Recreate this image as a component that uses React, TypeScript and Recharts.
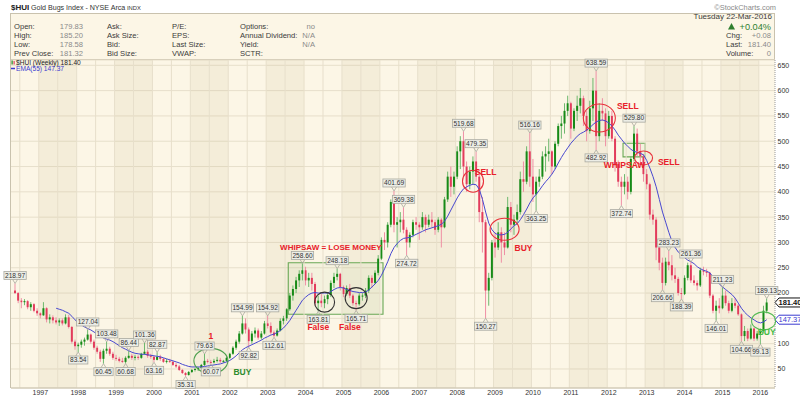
import React from 'react';
import { ComposedChart, Bar, Line, XAxis, YAxis, CartesianGrid, ReferenceArea, ReferenceLine, ReferenceDot } from 'recharts';

// ---- weekly $HUI summarised as monthly candles [open, high, low, close] ----
const ohlc1996 = [[205,218.97,198,200],[200,202,180,185],[185,190,170,182],[182,188,176,184],[184,186,168,172],[172,182,165,178],[178,180,162,165],[165,170,155,160]];
const ohlc1997 = [[160,162,150,156],[156,182,155,170],[170,172,142,148],[148,158,140,152],[152,156,140,146],[146,152,138,142],[142,150,135,146],[146,150,136,140],[140,158,138,152],[152,157,130,133],[133,135,100,104],[104,108,88,95]];
const ohlc1998 = [[95,102,83.54,98],[98,108,92,104],[104,112,96,108],[108,127.04,106,118],[118,120,100,104],[104,108,88,92],[92,96,80,84],[84,88,64,70],[70,90,60.45,86],[86,103.48,80,90],[90,94,76,80],[80,84,68,72]];
const ohlc1999 = [[72,78,66,70],[70,74,63,66],[66,72,62,64],[64,75,60.68,72],[72,86.44,70,76],[76,80,68,72],[72,78,67,74],[74,77,68,72],[72,82,70,80],[80,101.36,78,84],[84,88,72,76],[76,80,70,74]];
const ohlc2000 = [[74,76,63.16,68],[68,82.87,67,74],[74,78,66,70],[70,72,62,64],[64,70,61,66],[66,70,62,64],[64,66,56,58],[58,62,52,55],[55,58,46,48],[48,50,40,42],[42,44,35.31,38],[38,46,37,44]];
const ohlc2001 = [[44,50,42,48],[48,52,45,50],[50,54,46,52],[52,60,50,58],[58,79.63,56,66],[66,70,61,64],[64,68,60.07,63],[63,70,61,66],[66,74,63,68],[68,72,62,65],[65,68,62,66],[66,74,64,72]];
const ohlc2002 = [[72,82,70,80],[80,95,78,92],[92,108,88,104],[104,125,100,120],[120,154.99,118,140],[140,150,120,128],[128,132,92.82,105],[105,125,100,120],[120,132,112,126],[126,130,108,112],[112,125,108,120],[120,145,118,140]];
const ohlc2003 = [[140,154.92,130,135],[135,142,118,122],[122,126,112.61,116],[116,130,114,126],[126,150,124,145],[145,155,138,150],[150,170,145,168],[168,200,165,195],[195,215,185,208],[208,232,200,225],[225,245,212,238],[238,258.6,225,245]];
const ohlc2004 = [[245,252,215,225],[225,240,212,230],[230,240,205,218],[218,222,175,180],[180,195,163.81,185],[185,198,172,180],[180,195,170,188],[188,200,178,196],[196,225,192,220],[220,240,210,232],[232,248.18,225,238],[238,240,205,212]];
const ohlc2005 = [[212,215,192,198],[198,215,195,210],[210,218,190,195],[195,198,175,180],[180,185,165.71,178],[178,200,175,195],[195,200,185,195],[195,210,190,205],[205,235,200,230],[230,235,210,220],[220,245,218,240],[240,275,235,268]];
const ohlc2006 = [[268,310,265,305],[305,320,285,300],[300,340,290,335],[335,385,330,380],[380,401.69,320,335],[335,350,290,340],[340,360,320,345],[345,369.38,318,325],[325,330,274.72,300],[300,320,290,315],[315,345,310,340],[340,350,325,335]];
const ohlc2007 = [[335,340,305,330],[330,360,325,350],[350,355,320,335],[335,355,330,345],[345,360,330,340],[340,345,315,325],[325,350,320,345],[345,348,290,330],[330,390,328,385],[385,440,380,430],[430,450,390,410],[410,440,395,430]];
const ohlc2008 = [[430,490,425,480],[480,510,445,500],[500,519.68,430,450],[450,460,400,415],[415,450,405,440],[440,470,415,460],[460,479.35,420,430],[430,435,340,360],[360,390,280,340],[340,345,150.27,205],[205,240,175,230],[230,305,225,300]];
const ohlc2009 = [[300,320,270,290],[290,340,285,320],[320,330,260,300],[300,320,275,290],[290,390,288,370],[370,380,320,335],[335,355,315,345],[345,375,335,360],[360,440,355,425],[425,460,400,420],[420,490,415,480],[480,516.16,410,430]];
const ohlc2010 = [[430,465,380,395],[395,430,363.25,420],[420,445,410,430],[430,480,425,470],[470,490,440,475],[475,505,460,480],[480,482,435,450],[450,500,445,495],[495,535,490,530],[530,550,505,535],[535,575,515,560],[560,590,550,575]];
const ohlc2011 = [[575,578,505,525],[525,565,520,560],[560,590,540,570],[570,605,555,585],[585,590,530,550],[550,560,500,520],[520,580,515,565],[565,625,540,600],[600,638.59,482.92,510],[510,575,500,560],[560,585,540,555],[555,565,490,510]];
const ohlc2012 = [[510,560,505,550],[550,560,500,505],[505,510,440,455],[455,462,410,420],[420,430,372.74,410],[410,435,395,420],[420,430,385,400],[400,470,395,465],[465,529.8,460,515],[515,525,470,480],[480,495,455,470],[470,475,420,435]];
const ohlc2013 = [[435,445,405,415],[415,418,345,355],[355,365,335,345],[345,350,265,290],[290,298,245,260],[260,270,206.66,220],[220,270,215,262],[262,283.23,245,255],[255,275,225,235],[235,250,220,228],[228,232,195,200],[200,210,188.39,198]];
const ohlc2014 = [[198,235,196,230],[230,260,225,255],[255,261.36,220,225],[225,235,215,220],[220,225,205,215],[215,250,212,245],[245,252,235,242],[242,248,232,240],[240,242,190,195],[195,198,160,165],[165,185,146.01,175],[175,190,160,170]];
const ohlc2015 = [[170,211.23,168,195],[195,205,175,180],[180,185,160,165],[165,190,162,180],[180,190,170,175],[175,178,155,158],[158,160,104.66,115],[115,135,105,125],[125,130,105,110],[110,138,108,130],[130,132,105,110],[110,125,106,120]];
const ohlc2016 = [[120,130,99.13,125],[125,175,122,165],[165,189.13,160,181.4]];

// EMA(55) read monthly, starting Jun 1997
const ema55 = [170,168,166,163,160,154,147,141,137,133,130,127,123,119,115,111,109,107,104,100,96,92,89,86,83,81,80,79,79,78,77,76,75,74,72,70,68,66,64,62,59,57,55,54,54,54,54,55,56,57,58,59,60,62,64,67,71,76,82,88,92,95,98,101,104,107,111,114,117,119,122,126,131,138,146,156,166,176,186,192,197,200,201,200,200,200,200,203,207,210,211,210,207,205,203,202,201,201,202,206,212,218,225,235,248,262,278,290,298,304,308,309,310,313,316,319,322,325,327,329,331,333,336,342,352,364,376,388,398,406,410,413,415,414,405,385,360,338,325,318,315,315,316,320,327,333,337,345,355,366,378,388,395,403,412,420,427,435,445,457,468,478,487,496,503,510,515,518,522,527,533,538,541,542,540,536,530,522,512,504,496,490,484,480,478,476,473,462,447,430,410,385,360,340,320,302,290,281,275,270,265,262,258,252,248,245,243,240,232,224,218,212,207,202,197,190,180,170,162,156,151,147,143,141,143,147.37];
const emaStartKey = '1997-06';

const yTicks = [25,50,75,100,125,150,175,200,225,250,275,300,325,350,375,400,425,450,475,500,525,550,575,600,625,650];
const shadedYears = [1997,1999,2001,2003,2005,2007,2009,2011,2013,2015];

// price call-outs: [month, value, above?]
const callouts: [string, number, boolean][] = [
  ['1996-05',218.97,true],['1998-01',83.54,false],['1998-04',127.04,true],['1998-09',60.45,false],['1998-10',103.48,true],
  ['1999-04',60.68,false],['1999-05',86.44,true],['1999-10',101.36,true],['2000-01',63.16,false],['2000-02',82.87,true],
  ['2000-11',35.31,false],['2001-05',79.63,true],['2001-07',60.07,false],['2002-05',154.99,true],['2002-07',92.82,false],
  ['2003-01',154.92,true],['2003-03',112.61,false],['2003-12',258.60,true],['2004-05',163.81,false],['2004-11',248.18,true],
  ['2005-05',165.71,false],['2006-05',401.69,true],['2006-08',369.38,true],['2006-09',274.72,false],['2008-03',519.68,true],
  ['2008-07',479.35,true],['2008-10',150.27,false],['2009-12',516.16,true],['2010-02',363.25,false],['2011-09',638.59,true],
  ['2011-09',482.92,false],['2012-05',372.74,false],['2012-09',529.80,true],['2013-06',206.66,false],['2013-08',283.23,true],
  ['2013-12',188.39,false],['2014-03',261.36,true],['2014-11',146.01,false],['2015-01',211.23,true],['2015-07',104.66,false],
  ['2016-01',99.13,false],['2016-03',189.13,true],
];

// hand-drawn annotations
const ellipses: { m: string; v: number; rx: number; ry: number; color: string }[] = [
  { m: '2001-07', v: 66, rx: 17, ry: 12.5, color: '#4FA04F' },
  { m: '2004-07', v: 182, rx: 10, ry: 10, color: '#333333' },
  { m: '2005-05', v: 190, rx: 11, ry: 10.5, color: '#333333' },
  { m: '2008-06', v: 421, rx: 10.5, ry: 11, color: '#E8303A' },
  { m: '2009-04', v: 326, rx: 14.5, ry: 11, color: '#E8303A' },
  { m: '2011-10', v: 546, rx: 16, ry: 14, color: '#E8303A' },
  { m: '2012-12', v: 467, rx: 9, ry: 7, color: '#E8303A' },
  { m: '2016-02', v: 145, rx: 12, ry: 9, color: '#55BB55' },
];
const notes: { m: string; v: number; text: string; color: string; size: number }[] = [
  { m: '2001-07', v: 115, text: '1', color: '#E8202A', size: 8.5 },
  { m: '2002-05', v: 44, text: 'BUY', color: '#2E8B2E', size: 8.5 },
  { m: '2004-09', v: 290, text: 'WHIPSAW = LOSE MONEY', color: '#E8202A', size: 8 },
  { m: '2004-05', v: 133, text: 'False', color: '#E8202A', size: 8.5 },
  { m: '2005-03', v: 133, text: 'False', color: '#E8202A', size: 8.5 },
  { m: '2008-10', v: 439, text: 'SELL', color: '#E8202A', size: 8.5 },
  { m: '2009-10', v: 289, text: 'BUY', color: '#E8202A', size: 8.5 },
  { m: '2012-07', v: 570, text: 'SELL', color: '#E8202A', size: 8.5 },
  { m: '2012-06', v: 453, text: 'WHIPSAW', color: '#E8202A', size: 8.5 },
  { m: '2013-08', v: 459, text: 'SELL', color: '#E8202A', size: 8.5 },
  { m: '2016-03', v: 123, text: 'BUY', color: '#44BB44', size: 8.5 },
];
const boxes = [
  { x1: '2003-08', x2: '2006-01', y1: 158, y2: 260 },
  { x1: '2012-06', x2: '2012-12', y1: 469, y2: 496 },
];
const lastPrice = 181.4;
const lastEma = 147.37;

// ---- build table ----
const allOhlc = [ohlc1996, ohlc1997, ohlc1998, ohlc1999, ohlc2000, ohlc2001, ohlc2002, ohlc2003, ohlc2004, ohlc2005, ohlc2006, ohlc2007, ohlc2008, ohlc2009, ohlc2010, ohlc2011, ohlc2012, ohlc2013, ohlc2014, ohlc2015, ohlc2016].flat();
const data = allOhlc.map((r, i) => {
  const mi = 4 + i;
  const yr = 1996 + Math.floor(mi / 12);
  const mo = (mi % 12) + 1;
  return { m: `${yr}-${String(mo).padStart(2, '0')}`, o: r[0], h: r[1], l: r[2], c: r[3], ema: null as number | null };
});
const emaStart = data.findIndex(d => d.m === emaStartKey);
ema55.forEach((v, k) => { if (data[emaStart + k]) data[emaStart + k].ema = v; });
const yearTicks = data.filter(d => d.m.endsWith('-01')).map(d => d.m);
const gridMonths = data.filter(d => d.m.endsWith('-01') || d.m.endsWith('-07')).map(d => d.m);

const NARROW = '"Liberation Sans Narrow", "Arial Narrow", sans-serif';
const SANS = '"Liberation Sans", Arial, sans-serif';

const Candle = (props: any) => {
  const { x, y, width, height, payload } = props;
  if (!payload || y == null || height == null) return null;
  const { o, h, l, c } = payload;
  const top = Math.min(y, y + height);
  const bot = Math.max(y, y + height);
  const span = h - l || 1;
  const py = (v: number) => top + ((h - v) / span) * (bot - top);
  const cx = x + width / 2;
  const up = c >= o;
  const body = up ? '#178A17' : '#E23C5C';
  const wick = up ? '#6DB86D' : '#EF8FA5';
  const yo = py(o), yc = py(c);
  return (
    <g>
      <line x1={cx} x2={cx} y1={top} y2={bot} stroke={wick} strokeWidth={1} />
      <rect x={cx - 1} y={Math.min(yo, yc)} width={2} height={Math.max(1, Math.abs(yc - yo))} fill={body} />
    </g>
  );
};

const Callout = (props: any) => {
  const { cx, cy, text, up } = props;
  if (cx == null || cy == null) return null;
  const w = text.length * 3.05 + 4;
  const h = 8;
  const gap = 4;
  const by = up ? cy - gap - h : cy + gap;
  const tip = up ? `M${cx - 2.5},${cy - gap} L${cx},${cy} L${cx + 2.5},${cy - gap}` : `M${cx - 2.5},${cy + gap} L${cx},${cy} L${cx + 2.5},${cy + gap}`;
  return (
    <g>
      <path d={tip} stroke="#A9A9A0" strokeWidth={0.8} fill="none" />
      <rect x={cx - w / 2} y={by} width={w} height={h} fill="#ECEDE6" stroke="#A9A9A0" strokeWidth={0.8} />
      <text x={cx} y={by + h / 2 + 2.3} textAnchor="middle" fontSize={6.6} fill="#333" fontFamily={NARROW}>{text}</text>
    </g>
  );
};

const EllipseShape = (props: any) => {
  const { cx, cy, rx, ry, color } = props;
  if (cx == null) return null;
  return <ellipse cx={cx} cy={cy} rx={rx} ry={ry} fill="none" stroke={color} strokeWidth={1.1} />;
};

const NoteShape = (props: any) => {
  const { cx, cy, text, color, size } = props;
  if (cx == null) return null;
  return <text x={cx} y={cy + size * 0.35} textAnchor="middle" fontSize={size} fontWeight="bold" fill={color} fontFamily={SANS}>{text}</text>;
};

const PriceTag = (props: any) => {
  const { viewBox, text, color, bold } = props;
  if (!viewBox) return null;
  const x = viewBox.x + viewBox.width;
  const y = viewBox.y;
  return (
    <g>
      <path d={`M${x},${y} L${x + 4},${y - 4.5} L${x + 26},${y - 4.5} L${x + 26},${y + 4.5} L${x + 4},${y + 4.5} Z`} fill="#fff" stroke={color} strokeWidth={1} />
      <text x={x + 15} y={y + 2.6} textAnchor="middle" fontSize={7.5} fontWeight={bold ? 'bold' : 'normal'} fill={color} fontFamily={NARROW}>{text}</text>
    </g>
  );
};

// y tick labels hidden where the price tags sit on the axis
const YTick = (props: any) => {
  const { x, y, payload } = props;
  const v = payload?.value;
  if (v == null) return null;
  if (Math.abs(v - lastPrice) < 9 || Math.abs(v - lastEma) < 9) return null;
  return <text x={x} y={y + 2.4} fontSize={7} fill="#333" fontFamily={NARROW} textAnchor="start">{v}</text>;
};

const Header = () => {
  const lab = { fontSize: 7.6, fill: '#3A3A3A', fontFamily: SANS } as any;
  const val = { fontSize: 7.6, fill: '#8A8A8A', fontFamily: SANS } as any;
  const rows = [26, 35, 44, 53].map(r => r + 2.6);
  const c1 = ['Open:', 'High:', 'Low:', 'Prev Close:'];
  const v1 = ['179.83', '185.20', '178.58', '181.32'];
  const c2 = ['Ask:', 'Ask Size:', 'Bid:', 'Bid Size:'];
  const c3 = ['P/E:', 'EPS:', 'Last Size:', 'VWAP:'];
  const c4 = ['Options:', 'Annual Dividend:', 'Yield:', 'SCTR:'];
  const v4 = ['no', 'N/A', 'N/A', ''];
  return (
    <svg width={800} height={80} style={{ position: 'absolute', left: 0, top: 0, pointerEvents: 'none' }}>
      <text x={11} y={10} fontSize={8} fontWeight="bold" fill="#222" fontFamily={SANS}>$HUI</text>
      <text x={31} y={10} fontSize={7.1} fill="#333" fontFamily={SANS}>Gold Bugs Index - NYSE Arca</text>
      <text x={127} y={10} fontSize={5.8} fill="#333" fontFamily={SANS}>INDX</text>
      <text x={776} y={10} textAnchor="end" fontSize={7.4} fill="#8A8A8A" fontFamily={SANS}>©StockCharts.com</text>
      {rows.map((y, k) => (
        <g key={k}>
          <text x={14} y={y} {...lab}>{c1[k]}</text>
          <text x={83} y={y} textAnchor="end" {...val}>{v1[k]}</text>
          <text x={107} y={y} {...lab}>{c2[k]}</text>
          <text x={172} y={y} {...lab}>{c3[k]}</text>
          <text x={240} y={y} {...lab}>{c4[k]}</text>
          <text x={315} y={y} textAnchor="end" {...val}>{v4[k]}</text>
        </g>
      ))}
      <text x={772} y={19} textAnchor="end" fontSize={8} fill="#3A3A3A" fontFamily={SANS}>Tuesday  22-Mar-2016</text>
      <path d="M728,29.5 L731.5,23 L735,29.5 Z" fill="#2F7F2F" />
      <text x={771} y={29.5} textAnchor="end" fontSize={9.2} fill="#2F7F2F" fontFamily={SANS}>+0.04%</text>
      <text x={726} y={rows[1]} {...lab}>Chg:</text>
      <text x={771} y={rows[1]} textAnchor="end" {...val}>+0.08</text>
      <text x={726} y={rows[2]} {...lab}>Last:</text>
      <text x={771} y={rows[2]} textAnchor="end" {...val}>181.40</text>
      <text x={726} y={rows[3]} {...lab}>Volume:</text>
      <text x={771} y={rows[3]} textAnchor="end" {...val}>0</text>
      {/* legend */}
      <rect x={11.5} y={60.5} width={1.2} height={4} fill="#178A17" />
      <rect x={13.5} y={61} width={1.2} height={3.5} fill="#E23C5C" />
      <text x={16} y={64.8} fontSize={6.6} fill="#222" fontFamily={SANS}>$HUI (Weekly) 181.40</text>
      <line x1={11} x2={15} y1={68.5} y2={68.5} stroke="#3A3AD0" strokeWidth={1.5} />
      <text x={16} y={71} fontSize={6.6} fill="#3A3AD0" fontFamily={SANS}>EMA(55) 147.37</text>
    </svg>
  );
};

export default function App() {
  return (
    <div style={{ position: 'absolute', left: 0, top: 0, width: 800, height: 399, background: '#fff', overflow: 'hidden' }}>
      <div style={{ position: 'absolute', left: 10, top: 13, width: 765, height: 375, background: '#FCF6E6', border: '1px solid #C9C2AE', boxSizing: 'border-box' }} />
      <div style={{ position: 'absolute', left: 10, top: 59, width: 765, height: 1, background: '#C9C2AE' }} />
      <div style={{ position: 'absolute', left: 0, top: 0 }}>
        <ComposedChart width={800} height={399} data={data} margin={{ top: 60, right: 0, bottom: 0, left: 11 }} barCategoryGap={0}>
          <CartesianGrid vertical={false} stroke="#E7DFCB" strokeWidth={1} fill="#FCF6E6" />
          {shadedYears.map(yr => (
            <ReferenceArea key={yr} x1={`${yr}-01`} x2={`${yr}-12`} fill="#BFAE80" fillOpacity={0.13} stroke="none" ifOverflow="hidden" />
          ))}
          {gridMonths.map(m => (
            <ReferenceLine key={m} x={m} position="start" stroke="#E7DFCB" strokeWidth={1} />
          ))}
          <XAxis dataKey="m" ticks={yearTicks} interval={0} tickFormatter={(m: string) => m.slice(0, 4)} tickLine={false} tickSize={0} tickMargin={2.5}
            axisLine={{ stroke: '#C9C2AE' }} tick={{ fontSize: 7, fill: '#333', fontFamily: NARROW }} padding={{ left: 2.5, right: 6.7 }} height={11} />
          <YAxis orientation="right" type="number" domain={[12.4, 660.5]} ticks={yTicks} allowDataOverflow width={25} tickLine={false} tickSize={0} tickMargin={2.5}
            axisLine={{ stroke: '#9A9A9A', strokeDasharray: '1 1' }} tick={(p: any) => <YTick {...p} />} />
          <Bar dataKey={(d: any) => [d.l, d.h]} shape={(p: any) => <Candle {...p} />} isAnimationActive={false} />
          <Line dataKey="ema" stroke="#4848D0" strokeWidth={1} dot={false} activeDot={false} isAnimationActive={false} connectNulls={false} />
          {boxes.map((b, k) => (
            <ReferenceArea key={'b' + k} x1={b.x1} x2={b.x2} y1={b.y1} y2={b.y2} fill="#7FBF60" fillOpacity={0.06} stroke="#6AA855" strokeWidth={1.1} />
          ))}
          {ellipses.map((e, k) => (
            <ReferenceDot key={'e' + k} x={e.m} y={e.v} r={1} shape={(p: any) => <EllipseShape {...p} rx={e.rx} ry={e.ry} color={e.color} />} />
          ))}
          {callouts.map(([m, v, up], k) => (
            <ReferenceDot key={'c' + k} x={m} y={v} r={1} shape={(p: any) => <Callout {...p} text={v.toFixed(2)} up={up} />} />
          ))}
          {notes.map((n, k) => (
            <ReferenceDot key={'n' + k} x={n.m} y={n.v} r={1} shape={(p: any) => <NoteShape {...p} text={n.text} color={n.color} size={n.size} />} />
          ))}
          <ReferenceLine y={lastPrice} stroke="none" label={(p: any) => <PriceTag {...p} text={lastPrice.toFixed(2)} color="#111" bold />} />
          <ReferenceLine y={lastEma} stroke="none" label={(p: any) => <PriceTag {...p} text={lastEma.toFixed(2)} color="#3A3AD0" />} />
        </ComposedChart>
      </div>
      <Header />
    </div>
  );
}
